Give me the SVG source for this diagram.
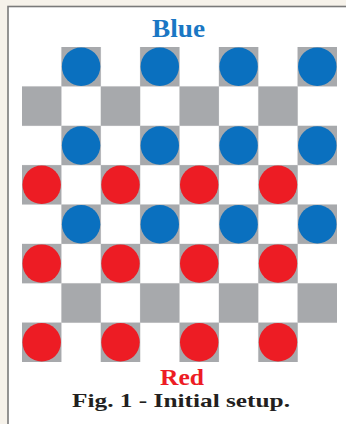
<svg xmlns="http://www.w3.org/2000/svg" width="346" height="424" viewBox="0 0 346 424">
<style>
.dk{fill:#a7a9ac}
.lt{fill:#ffffff}
.b{fill:#0a70bf}
.r{fill:#ed1c24}
.t{font-family:"Liberation Serif","Times New Roman",serif;font-weight:bold;text-anchor:middle}
</style>
<rect x="0" y="0" width="346" height="424" fill="#f6f2ea"/>
<rect x="8" y="6.5" width="340" height="420" fill="#ffffff" stroke="#7a7a7a" stroke-width="1.6"/>
<g id="board">
<rect class="lt" x="22" y="47" width="315" height="315"/>
<g id="lines" stroke="#ececec" stroke-width="0.5">
<path d="M61.4 47V362M100.8 47V362M140.1 47V362M179.5 47V362M218.9 47V362M258.3 47V362M297.6 47V362M22 86.4H337M22 125.8H337M22 165.1H337M22 204.5H337M22 243.9H337M22 283.3H337M22 322.6H337"/>
</g>
<g id="dark">
<rect class="dk" x="61.4" y="47" width="39.4" height="39.4"/><rect class="dk" x="140.1" y="47" width="39.4" height="39.4"/><rect class="dk" x="218.9" y="47" width="39.4" height="39.4"/><rect class="dk" x="297.6" y="47" width="39.4" height="39.4"/>
<rect class="dk" x="22" y="86.4" width="39.4" height="39.4"/><rect class="dk" x="100.8" y="86.4" width="39.4" height="39.4"/><rect class="dk" x="179.5" y="86.4" width="39.4" height="39.4"/><rect class="dk" x="258.3" y="86.4" width="39.4" height="39.4"/>
<rect class="dk" x="61.4" y="125.8" width="39.4" height="39.4"/><rect class="dk" x="140.1" y="125.8" width="39.4" height="39.4"/><rect class="dk" x="218.9" y="125.8" width="39.4" height="39.4"/><rect class="dk" x="297.6" y="125.8" width="39.4" height="39.4"/>
<rect class="dk" x="22" y="165.1" width="39.4" height="39.4"/><rect class="dk" x="100.8" y="165.1" width="39.4" height="39.4"/><rect class="dk" x="179.5" y="165.1" width="39.4" height="39.4"/><rect class="dk" x="258.3" y="165.1" width="39.4" height="39.4"/>
<rect class="dk" x="61.4" y="204.5" width="39.4" height="39.4"/><rect class="dk" x="140.1" y="204.5" width="39.4" height="39.4"/><rect class="dk" x="218.9" y="204.5" width="39.4" height="39.4"/><rect class="dk" x="297.6" y="204.5" width="39.4" height="39.4"/>
<rect class="dk" x="22" y="243.9" width="39.4" height="39.4"/><rect class="dk" x="100.8" y="243.9" width="39.4" height="39.4"/><rect class="dk" x="179.5" y="243.9" width="39.4" height="39.4"/><rect class="dk" x="258.3" y="243.9" width="39.4" height="39.4"/>
<rect class="dk" x="61.4" y="283.3" width="39.4" height="39.4"/><rect class="dk" x="140.1" y="283.3" width="39.4" height="39.4"/><rect class="dk" x="218.9" y="283.3" width="39.4" height="39.4"/><rect class="dk" x="297.6" y="283.3" width="39.4" height="39.4"/>
<rect class="dk" x="22" y="322.6" width="39.4" height="39.4"/><rect class="dk" x="100.8" y="322.6" width="39.4" height="39.4"/><rect class="dk" x="179.5" y="322.6" width="39.4" height="39.4"/><rect class="dk" x="258.3" y="322.6" width="39.4" height="39.4"/>
</g>
</g>
<g id="blue-pieces">
<circle class="b" cx="81.1" cy="66.7" r="19.2"/><circle class="b" cx="159.8" cy="66.7" r="19.2"/><circle class="b" cx="238.6" cy="66.7" r="19.2"/><circle class="b" cx="317.3" cy="66.7" r="19.2"/>
<circle class="b" cx="81.1" cy="145.5" r="19.2"/><circle class="b" cx="159.8" cy="145.5" r="19.2"/><circle class="b" cx="238.6" cy="145.5" r="19.2"/><circle class="b" cx="317.3" cy="145.5" r="19.2"/>
<circle class="b" cx="81.1" cy="224.2" r="19.2"/><circle class="b" cx="159.8" cy="224.2" r="19.2"/><circle class="b" cx="238.6" cy="224.2" r="19.2"/><circle class="b" cx="317.3" cy="224.2" r="19.2"/>
</g>
<g id="red-pieces">
<circle class="r" cx="41.7" cy="184.8" r="19.2"/><circle class="r" cx="120.5" cy="184.8" r="19.2"/><circle class="r" cx="199.2" cy="184.8" r="19.2"/><circle class="r" cx="278" cy="184.8" r="19.2"/>
<circle class="r" cx="41.7" cy="263.6" r="19.2"/><circle class="r" cx="120.5" cy="263.6" r="19.2"/><circle class="r" cx="199.2" cy="263.6" r="19.2"/><circle class="r" cx="278" cy="263.6" r="19.2"/>
<circle class="r" cx="41.7" cy="342.3" r="19.2"/><circle class="r" cx="120.5" cy="342.3" r="19.2"/><circle class="r" cx="199.2" cy="342.3" r="19.2"/><circle class="r" cx="278" cy="342.3" r="19.2"/>
</g>
<g id="labels">
<text class="t" x="178.5" y="36.5" font-size="25" fill="#1a77c4" textLength="53" lengthAdjust="spacingAndGlyphs">Blue</text>
<text class="t" x="182" y="384.8" font-size="22.5" fill="#ed1c24" textLength="44" lengthAdjust="spacingAndGlyphs">Red</text>
<text class="t" x="181" y="407" font-size="19.5" fill="#231f20" textLength="218" lengthAdjust="spacingAndGlyphs">Fig. 1 - Initial setup.</text>
</g>
</svg>
